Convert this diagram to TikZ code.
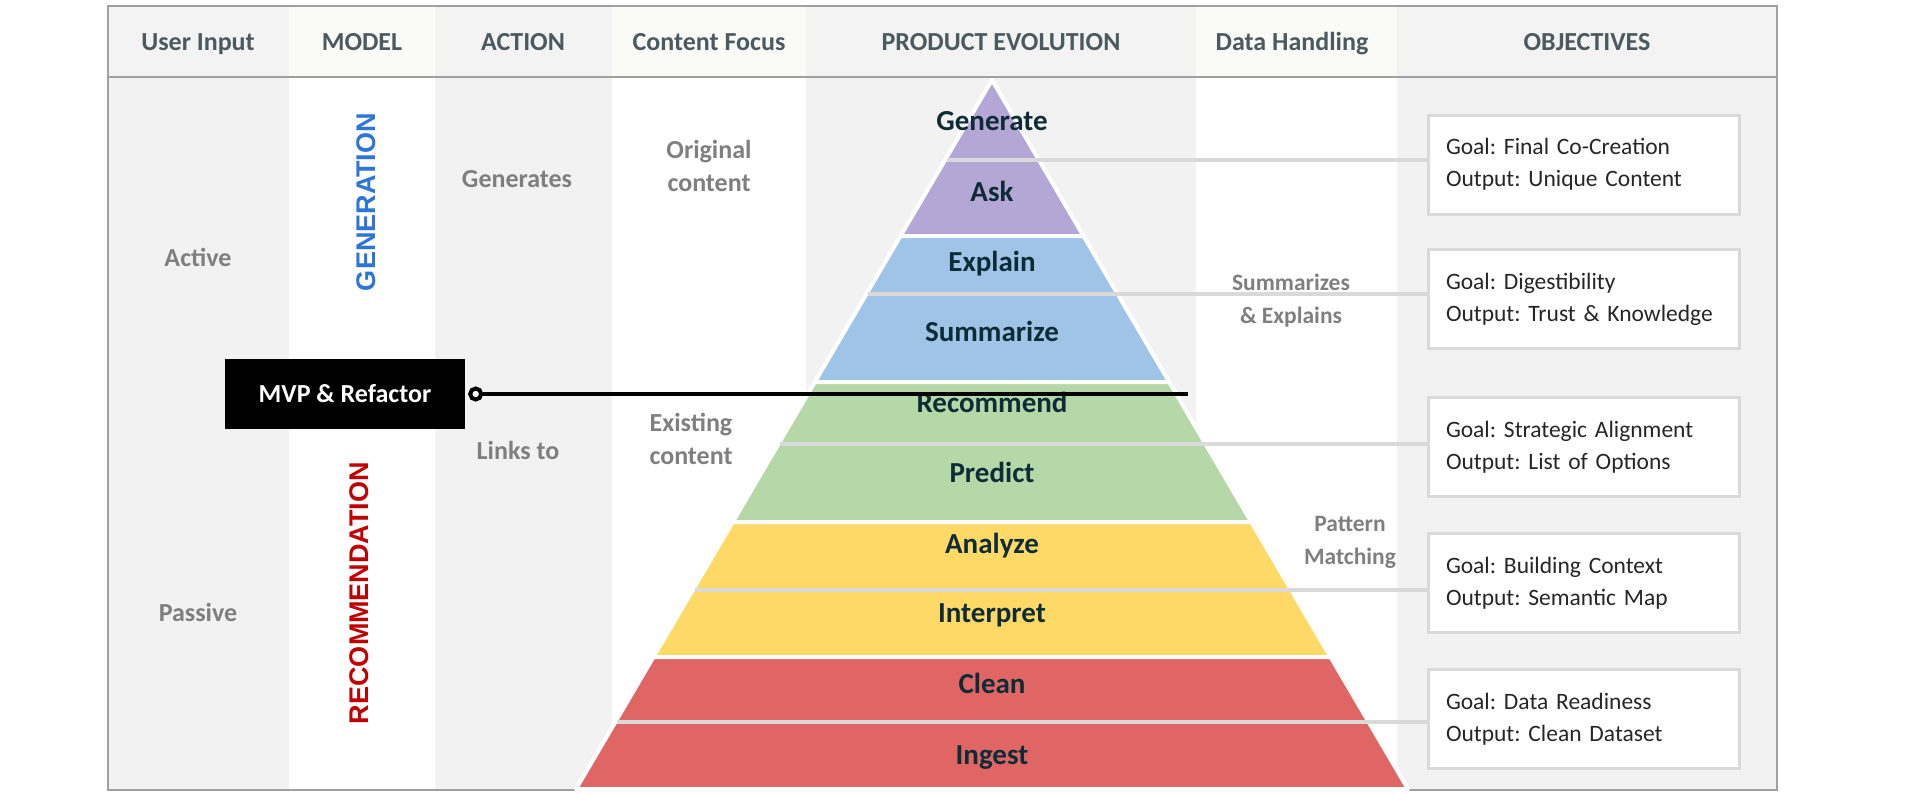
\documentclass[tikz,border=0pt]{standalone}
\usepackage{fontspec}
\setmainfont{Carlito}
\newfontfamily\arialfont{Liberation Sans}
\usetikzlibrary{arrows.meta,calc}
\frenchspacing
\definecolor{hdrcol}{RGB}{74,90,96}
\definecolor{greytxt}{RGB}{127,127,127}
\definecolor{pyrtxt}{RGB}{14,44,54}
\definecolor{colgrey}{RGB}{242,242,242}
\definecolor{hdrgrey}{RGB}{243,243,243}
\definecolor{hdrlight}{RGB}{250,250,247}
\definecolor{framecol}{RGB}{160,160,160}
\definecolor{divcol}{RGB}{217,217,217}
\definecolor{boxline}{RGB}{217,217,217}
\definecolor{objtxt}{RGB}{38,38,38}
\definecolor{purp}{RGB}{180,167,214}
\definecolor{bluel}{RGB}{159,196,231}
\definecolor{greenl}{RGB}{182,215,168}
\definecolor{yell}{RGB}{255,217,102}
\definecolor{redl}{RGB}{224,102,102}
\definecolor{genblue}{RGB}{46,117,214}
\definecolor{recred}{RGB}{192,0,0}
\newcommand\mypband[3]{%
  \path[fill=#3, draw=white, line width=4pt, line join=round]
    ({992-0.5867*(#1-80)},#1) -- ({992+0.5867*(#1-80)},#1) --
    ({992+0.5867*(#2-80)},#2) -- ({992-0.5867*(#2-80)},#2) -- cycle;}
\tikzset{
  hdr/.style={font=\fontsize{26}{31}\selectfont\bfseries, text=hdrcol, text height=16.6pt, text depth=0pt},
  side/.style={font=\fontsize{26}{33}\selectfont\bfseries, text=greytxt, align=center, text height=16.6pt, text depth=0pt},
  sidesm/.style={side, font=\fontsize{23.5}{33}\selectfont\bfseries, text height=15pt},
  lvl/.style={font=\fontsize{29}{33}\selectfont\bfseries, text=pyrtxt, text height=18.6pt, text depth=0pt},
  objbox/.style={draw=boxline, line width=3pt, fill=white, minimum width=311pt,
    minimum height=99pt, text width=275pt, align=left, inner xsep=18pt,
    font=\fontsize{23.5}{32}\selectfont, text=objtxt},
  divline/.style={draw=divcol, line width=4pt},
  vert/.style={rotate=90, font=\fontsize{27}{30}\selectfont\arialfont\bfseries, text height=19.4pt, text depth=0pt},
}
\begin{document}
\begin{tikzpicture}[x=1pt,y=-1pt]
\useasboundingbox (0,0) rectangle (1920,795);
% column backgrounds
\fill[colgrey] (108,77) rectangle (289,790);
\fill[colgrey] (435,77) rectangle (612,790);
\fill[colgrey] (806,77) rectangle (1196,790);
\fill[colgrey] (1397,77) rectangle (1777,790);
\fill[hdrgrey] (108,6) rectangle (289,77);
\fill[hdrlight] (289,6) rectangle (435,77);
\fill[hdrgrey] (435,6) rectangle (612,77);
\fill[hdrlight] (612,6) rectangle (806,77);
\fill[hdrgrey] (806,6) rectangle (1196,77);
\fill[hdrlight] (1196,6) rectangle (1397,77);
\fill[hdrgrey] (1397,6) rectangle (1777,77);
\draw[framecol, line width=2pt] (108,77) -- (1777,77);
\draw[framecol, line width=2pt] (108,6) rectangle (1777,790);
% headers
\node[hdr] (h1) at (198,42) {User Input};
\node[hdr] (h2) at (362,42) {MODEL};
\node[hdr] (h3) at (523,42) {ACTION};
\node[hdr] (h4) at (709,42) {Content Focus};
\node[hdr] (h5) at (1001,42) {PRODUCT EVOLUTION};
\node[hdr] (h6) at (1292,42) {Data Handling};
\node[hdr] (h7) at (1587,42) {OBJECTIVES};
% pyramid
\mypband{80}{236}{purp}
\mypband{236}{382}{bluel}
\mypband{382}{522}{greenl}
\mypband{522}{657}{yell}
\mypband{657}{789}{redl}
% objective boxes
\node[objbox] (o1) at (1583.5,164.5) {Goal: Final Co-Creation\\Output: Unique Content};
\node[objbox] (o2) at (1583.5,299) {Goal: Digestibility\\Output: Trust \& Knowledge};
\node[objbox] (o3) at (1583.5,447) {Goal: Strategic Alignment\\Output: List of Options};
\node[objbox] (o4) at (1583.5,583) {Goal: Building Context\\Output: Semantic Map};
\node[objbox] (o5) at (1583.5,719) {Goal: Data Readiness\\Output: Clean Dataset};
% dividers
\coordinate (d1) at ({992-0.5867*(160-80)+2},160);
\coordinate (d2) at ({992-0.5867*(294-80)+2},294);
\coordinate (d3) at ({992-0.5867*(444-80)+2},444);
\coordinate (d4) at ({992-0.5867*(590-80)+2},590);
\coordinate (d5) at ({992-0.5867*(722-80)+2},722);
\draw[divline] (d1) -- (d1 -| o1.west);
\draw[divline] (d2) -- (d2 -| o2.west);
\draw[divline] (d3) -- (d3 -| o3.west);
\draw[divline] (d4) -- (d4 -| o4.west);
\draw[divline] (d5) -- (d5 -| o5.west);
% pyramid labels
\node[lvl] (l1) at (992,121) {Generate};
\node[lvl] (l2) at (992,192) {Ask};
\node[lvl] (l3) at (992,262) {Explain};
\node[lvl] (l4) at (992,332) {Summarize};
\node[lvl] (l5) at (992,403) {Recommend};
\node[lvl] (l6) at (992,473) {Predict};
\node[lvl] (l7) at (992,544) {Analyze};
\node[lvl] (l8) at (992,613) {Interpret};
\node[lvl] (l9) at (992,684) {Clean};
\node[lvl] (l10) at (992,755) {Ingest};
% side texts
\node[side] (act) at (198,258) {Active};
\node[side] (pas) at (198,613) {Passive};
\node[vert, text=genblue] (gen) at (366,202) {GENERATION};
\node[vert, text=recred] (rec) at (359,593) {RECOMMENDATION};
\node[side] (gens) at (517,179) {Generates};
\node[side] (links) at (518,451) {Links to};
\node[side] (orig) at (709,183.5) {Original\\content};
\node[side] (exist) at (691,456.5) {Existing\\content};
\node[sidesm] (summ) at (1291,315.5) {Summarizes\\\& Explains};
\node[sidesm] (patt) at (1350,556.5) {Pattern\\Matching};
% MVP
\node[fill=black, minimum width=240pt, minimum height=70pt, text=white,
  font=\fontsize{26}{31}\selectfont\bfseries] (mvp) at (345,394) {MVP \& Refactor};
\coordinate (mvpend) at (1188,394);
\draw[line width=4pt, {Circle[fill=white,length=15pt,width=15pt]}-]
  ([xshift=3pt]mvp.east) -- (mvpend);
\end{tikzpicture}
\end{document}
